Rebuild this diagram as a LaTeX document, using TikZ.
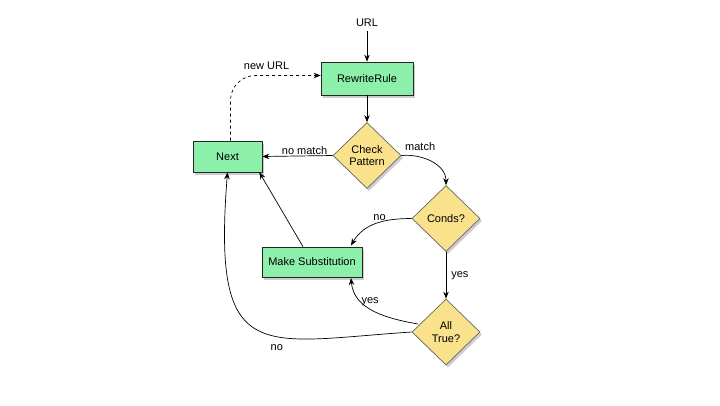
\documentclass[tikz,border=0pt]{standalone}
\usepackage{fontspec}
\setmainfont{Liberation Sans}
\usetikzlibrary{shapes.geometric,arrows.meta,shadows}
\begin{document}
\begin{tikzpicture}[x=1pt,y=-1pt,font=\fontsize{11}{12.5}\selectfont,
    >={Stealth[length=7pt,width=5.5pt]},
    every path/.style={line width=0.7pt},
    box/.style={draw=black!85,fill=stepgreen,minimum width=#1,minimum height=31pt,inner sep=0pt,
        drop shadow={shadow xshift=2pt,shadow yshift=-2.5pt,opacity=.4}},
    test/.style={diamond,draw=black!60,fill=stepyellow,align=center,inner sep=0pt,
        minimum width=68pt,minimum height=66pt,
        drop shadow={shadow xshift=2pt,shadow yshift=-2.5pt,opacity=.4}},
    lbl/.style={inner sep=1pt}]
        \definecolor{stepgreen}{RGB}{141,240,170}
        \definecolor{stepyellow}{RGB}{250,226,140}
        \useasboundingbox (0,0) rectangle (720,405);
        \node (url) at (367,23) {URL};
        \node[box=92pt,minimum height=33pt] (rw) at (367,78.5) {RewriteRule};
        \node[test] (chk) at (367,155.5) {Check\\Pattern};
        \node[box=69pt] (next) at (227.5,156.5) {Next};
        \node[test] (conds) at (446,218.5) {Conds?};
        \node[box=100pt,minimum height=30pt] (ms) at (312,262) {Make Substitution};
        \node[test] (all) at (446,332) {All\\True?};
        \coordinate (msin) at (351,245.5);
        \coordinate (msout) at (351,278);
        \coordinate (allout) at (418,324);
        \draw[->] (url) -- (rw);
        \draw[->] (rw) -- (chk);
        \draw[->] (chk.west) -- (next.east) node[lbl,pos=.4,above] {no match};
        \draw[->] (chk.east) to[out=5,in=90] node[lbl,pos=.3,above=5pt] {match} (conds.north);
        \draw[->] (conds.west) to[out=180,in=60] node[lbl,pos=.45,above=1pt] {no} (msin);
        \draw[->] (conds.south) -- (all.north) node[lbl,midway,right=4pt] {yes};
        \draw[->] (allout) to[out=170,in=-85] node[lbl,pos=.55,above=2pt] {yes} (msout);
        \draw[->] (all.west) .. controls (260,342) and (212,368) .. node[lbl,pos=.4,below=7pt] {no} (next.south);
        \draw[->] (ms.north) ++(-9,0) -- ([xshift=-3pt]next.south east);
        \draw[->,dashed,rounded corners=25pt] ([xshift=3pt]next.north) |- node[lbl,pos=.7,above=5pt] {new URL} ([yshift=3pt]rw.west);
\end{tikzpicture}
\end{document}
